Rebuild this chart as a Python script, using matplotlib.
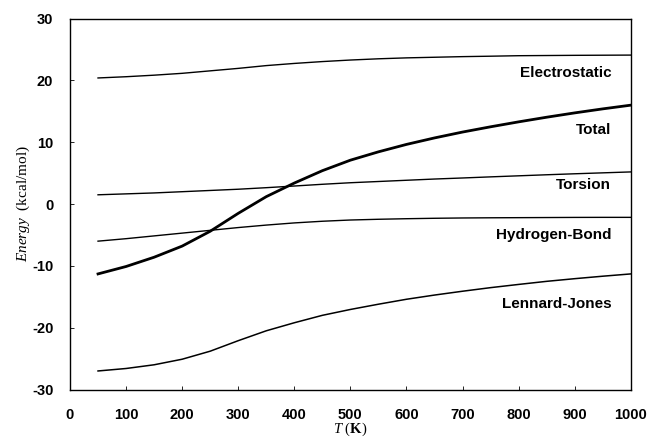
import matplotlib
matplotlib.use("Agg")
import matplotlib.pyplot as plt
import numpy as np

plt.rcParams['mathtext.fontset'] = 'custom'
plt.rcParams['mathtext.rm'] = 'Liberation Serif'
plt.rcParams['mathtext.it'] = 'Liberation Serif:italic'
plt.rcParams['mathtext.bf'] = 'Liberation Serif:bold'
plt.rcParams['axes.unicode_minus'] = False

T = [50, 100, 150, 200, 250, 300, 350, 400, 450, 500,
     550, 600, 650, 700, 750, 800, 850, 900, 950, 1000]
electrostatic = [20.4, 20.6, 20.85, 21.15, 21.55, 21.95, 22.4, 22.75, 23.05, 23.3,
                 23.5, 23.65, 23.75, 23.85, 23.92, 24.0, 24.03, 24.06, 24.08, 24.1]
total = [-11.3, -10.1, -8.6, -6.8, -4.4, -1.5, 1.2, 3.4, 5.4, 7.1,
         8.45, 9.65, 10.7, 11.65, 12.5, 13.3, 14.05, 14.75, 15.4, 16.0]
torsion = [1.5, 1.65, 1.8, 2.0, 2.2, 2.4, 2.65, 2.92, 3.2, 3.45,
           3.65, 3.85, 4.05, 4.22, 4.4, 4.57, 4.74, 4.9, 5.05, 5.2]
hbond = [-6.0, -5.6, -5.15, -4.7, -4.25, -3.8, -3.4, -3.05, -2.78, -2.58,
         -2.46, -2.37, -2.3, -2.25, -2.22, -2.2, -2.18, -2.16, -2.15, -2.15]
lj = [-27.0, -26.6, -26.0, -25.1, -23.8, -22.1, -20.5, -19.2, -18.0, -17.05,
      -16.2, -15.4, -14.72, -14.1, -13.52, -13.0, -12.5, -12.07, -11.67, -11.3]

series = [
    ("Electrostatic", electrostatic, 1.0, 21.2),
    ("Total", total, 2.0, 12.0),
    ("Torsion", torsion, 1.0, 3.1),
    ("Hydrogen-Bond", hbond, 1.0, -5.0),
    ("Lennard-Jones", lj, 1.1, -16.2),
]

fig = plt.figure(figsize=(6.51, 4.38), dpi=100)
ax = fig.add_axes([0.1075, 0.1107, 0.8615, 0.8468])

for name, vals, lw, ylab in series:
    ax.plot(T, vals, color='black', linewidth=lw, solid_joinstyle='round')
    ax.text(965, ylab, name, ha='right', va='center', fontsize=11,
            fontweight='bold', family='Liberation Sans')

ax.set_xlim(0, 1000)
ax.set_ylim(-30, 30)
ax.set_xticks(np.arange(0, 1001, 100))
ax.set_yticks(np.arange(-30, 31, 10))
ax.tick_params(direction='in', length=3, width=0.6, top=False, right=False)
ax.tick_params(axis='x', pad=13)
ax.tick_params(axis='y', pad=12)
for lab in ax.get_xticklabels() + ax.get_yticklabels():
    lab.set_fontfamily('Liberation Sans')
    lab.set_fontweight('bold')
    lab.set_fontsize(10.5)
for s in ax.spines.values():
    s.set_linewidth(1.0)

ax.set_xlabel(r'$T$ ($\mathbf{K}$)', fontsize=10.5, family='Liberation Serif', labelpad=-1)
ax.set_ylabel(r'$Energy$  (kcal/mol)', fontsize=11, family='Liberation Serif', labelpad=0)

fig.savefig('out.png', dpi=100)
